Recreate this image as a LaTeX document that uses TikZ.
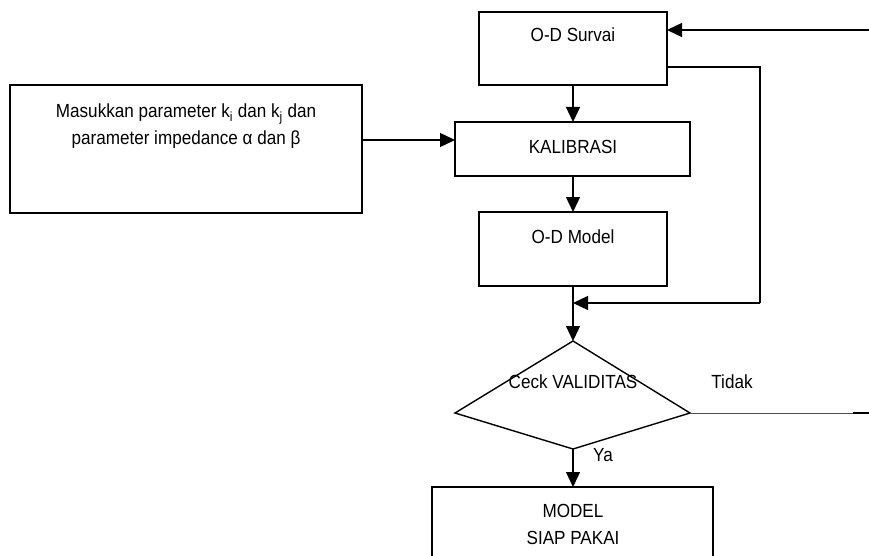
\documentclass[tikz,border=0pt]{standalone}
\usepackage{fontspec}
\setmainfont[FakeStretch=0.9]{Liberation Sans}
\usetikzlibrary{arrows.meta}
\begin{document}
\begin{tikzpicture}[x=1pt,y=-1pt,
  boxs/.style={draw=black,line width=1.4pt,inner sep=0pt,outer sep=0pt,anchor=north west},
  txt/.style={inner sep=0pt,align=center,font=\fontsize{19}{27}\selectfont},
  conn/.style={draw=black,line width=1.3pt},
  arr/.style={conn,-{Triangle[length=15pt,width=14pt]}}]
\clip (0,0) rectangle (869,556);
\fill[white] (0,0) rectangle (869,556);
% boxes
\node[boxs,minimum width=188pt,minimum height=73pt] (survai) at (479,12) {};
\node[txt] (survaiT) at (573,35) {O-D Survai};
\node[boxs,minimum width=235pt,minimum height=54pt] (kal) at (455,122) {};
\node[txt] (kalT) at (573,147) {KALIBRASI};
\node[boxs,minimum width=188pt,minimum height=74pt] (model) at (479,212) {};
\node[txt] (modelT) at (573,237) {O-D Model};
\node[boxs,minimum width=352pt,minimum height=128pt] (param) at (10,85) {};
\node[txt] (paramT) at (186,126) {Masukkan parameter k\textsubscript{i} dan k\textsubscript{j} dan\\parameter impedance α dan β};
\node[boxs,minimum width=281pt,minimum height=100pt] (siap) at (432,487) {};
\node[txt] (siapT) at (573,524) {MODEL\\SIAP PAKAI};
% diamond
\coordinate (dT) at (573,341);
\coordinate (dL) at (455,413);
\coordinate (dR) at (690,413);
\coordinate (dB) at (573,449);
\draw[line width=1.4pt,line join=miter] (dT) -- (dR) -- (dB) -- (dL) -- cycle;
\node[txt] (cekT) at (573,382) {Ceck VALIDITAS};
\node[txt] (tidakT) at (732,382) {Tidak};
\node[txt] (yaT) at (603,455) {Ya};
% connectors
\coordinate (inR) at (869,30);
\draw[arr] (inR) -- (inR -| survai.east);
\draw[arr] (survai.south) -- (kal.north -| survai.south);
\draw[arr] (kal.south -| survai.south) -- (model.north);
\draw[arr] (param.east |- 0,140) -- (kal.west |- 0,140);
\coordinate (fbR) at (760,67);
\coordinate (fbB) at (760,303);
\draw[conn] (survai.east |- fbR) -- (fbR) -- (fbB);
\draw[arr] (fbB) -- (model.south |- fbB);
\draw[arr] (model.south) -- (dT);
\draw[arr] (dB) -- (siap.north -| dB);
\coordinate (noE) at (853,413);
\coordinate (noR) at (869,413);
\draw[line width=0.7pt,black!70] (dR) -- (noE);
\draw[conn] (noE) -- (noR);
\end{tikzpicture}
\end{document}
